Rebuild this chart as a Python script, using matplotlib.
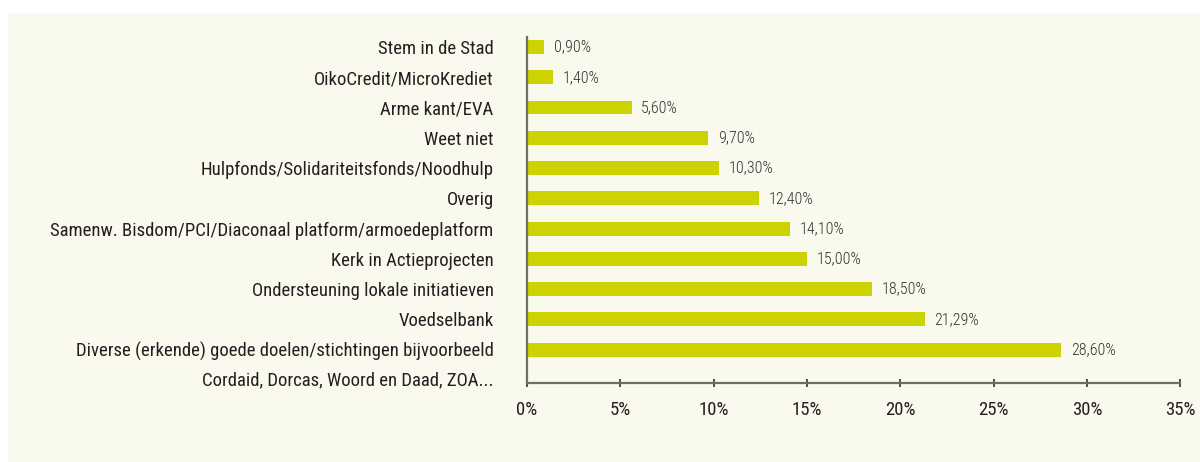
"""Horizontal bar chart: where donations go (share of respondents)."""
import matplotlib; matplotlib.use("Agg")
import matplotlib.pyplot as plt
from matplotlib.patches import Rectangle

categories = [
    "Stem in de Stad",
    "OikoCredit/MicroKrediet",
    "Arme kant/EVA",
    "Weet niet",
    "Hulpfonds/Solidariteitsfonds/Noodhulp",
    "Overig",
    "Samenw. Bisdom/PCI/Diaconaal platform/armoedeplatform",
    "Kerk in Actieprojecten",
    "Ondersteuning lokale initiatieven",
    "Voedselbank",
    "Diverse (erkende) goede doelen/stichtingen bijvoorbeeld",
]
label_second_line = "Cordaid, Dorcas, Woord en Daad, ZOA..."
values = [0.90, 1.40, 5.60, 9.70, 10.30, 12.40, 14.10, 15.00, 18.50, 21.29, 28.60]
xticks = [0, 5, 10, 15, 20, 25, 30, 35]

plt.rcParams["font.family"] = ["Roboto Condensed", "DejaVu Sans"]
BAR = "#ccd300"
TXT = "#231f20"
AX = "#6e6e6a"
BG = "#f9f9ed"

W, H = 1200, 462
fig = plt.figure(figsize=(W / 100, H / 100), dpi=100, facecolor="white")
fig.patches.append(Rectangle((8 / W, 0), 1 - 8 / W, 1 - 13 / H, transform=fig.transFigure,
                             facecolor=BG, edgecolor="none", zorder=-10))

x0, x1, y0, y1 = 527, 1180.5, 37, 383.3
ax = fig.add_axes([x0 / W, 1 - y1 / H, (x1 - x0) / W, (y1 - y0) / H])
ax.set_facecolor("none")

pos = list(range(len(categories)))
ax.barh(pos, values, height=0.46, color=BAR, zorder=2)
ax.set_ylim(len(categories) - 1 + 1.11, -0.33)
ax.set_xlim(0, 35)

for p, v in zip(pos, values):
    ax.annotate(f"{v:.2f}".replace(".", ",") + "%", xy=(v, p), xytext=(7, 0),
                textcoords="offset points", ha="left", va="center",
                fontsize=11.5, fontweight="light", color="#333333")

ax.set_yticks(pos)
ax.set_yticklabels(categories, fontsize=13.5, color=TXT)
ax.tick_params(axis="y", length=0, pad=24)
ax.annotate(label_second_line, xy=(0, len(categories)), xycoords=("axes fraction", "data"),
            xytext=(-24, 0), textcoords="offset points", ha="right", va="center",
            fontsize=13.5, color=TXT)

ax.set_xticks(xticks)
ax.set_xticklabels([f"{t}%" for t in xticks], fontsize=13.5, color=TXT)
ax.tick_params(axis="x", direction="inout", length=6, width=1.2, color="#333333", pad=10)

for s in ["top", "right"]:
    ax.spines[s].set_visible(False)
for s in ["left", "bottom"]:
    ax.spines[s].set_color(AX)
    ax.spines[s].set_linewidth(1.6)

fig.savefig("out.png", dpi=100, facecolor="white")
